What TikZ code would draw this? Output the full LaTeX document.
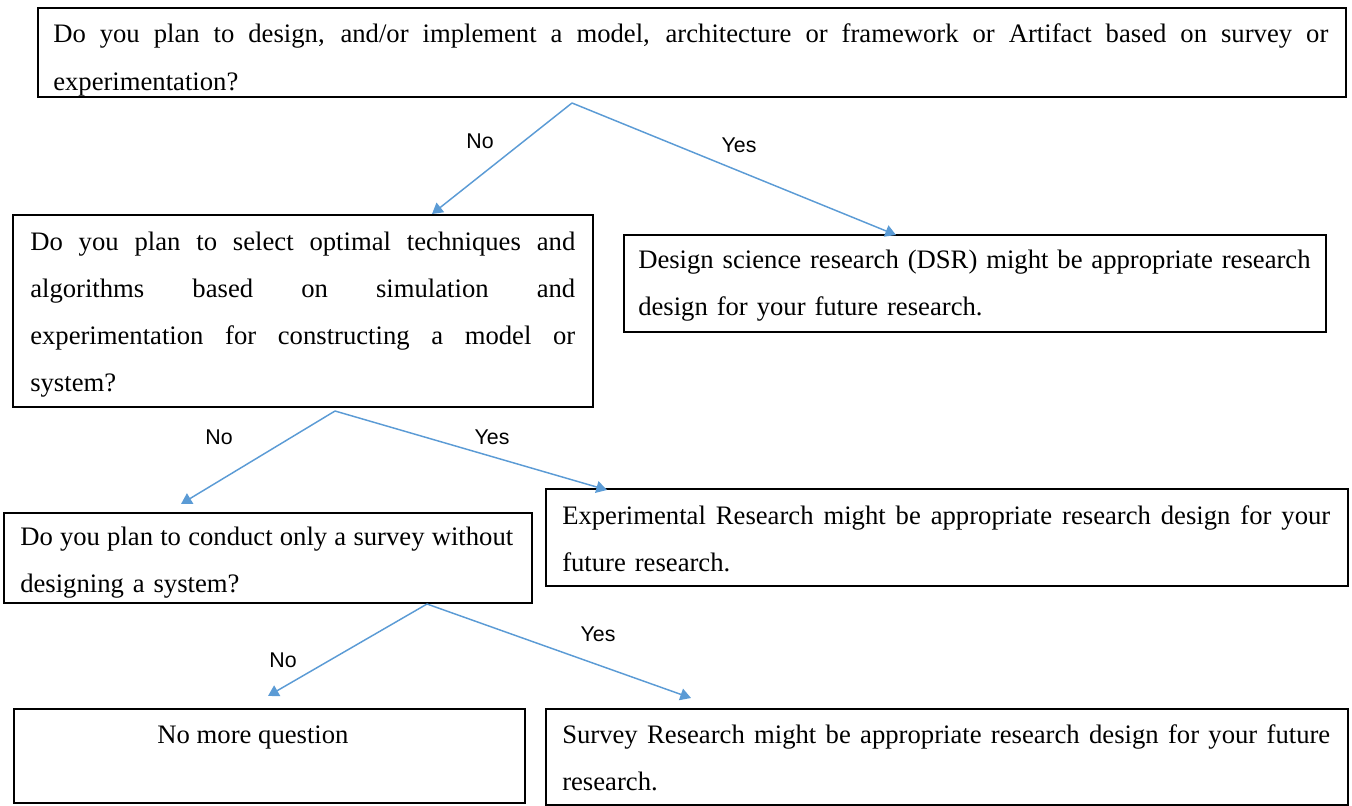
\documentclass[tikz,border=0pt]{standalone}
\usepackage{fontspec}
\setmainfont{Liberation Serif}
\newfontfamily\labelfont{Liberation Sans}
\usetikzlibrary{arrows.meta,fit}
\definecolor{flowblue}{HTML}{5B9BD5}
% a line whose word spaces stretch or shrink to fill the given width
\newcommand{\fullline}[2]{\leavevmode\hbox to #1{\spaceskip=0.25em plus 1fil minus 0.12em\relax
  \xspaceskip=\spaceskip #2}}

\begin{document}
\begin{tikzpicture}[x=0.75pt,y=-0.75pt,
  box/.style={draw=black, line width=1pt, inner sep=0pt, outer sep=0pt},
  body/.style={anchor=base west, inner sep=0pt, align=left, text width=#1,
    font=\fontsize{20}{35.4}\selectfont},
  body/.default=580pt,
  flow/.style={draw=flowblue, line width=1.1pt,
    -{Triangle[length=8pt,width=9pt]}},
  answer/.style={font=\labelfont\fontsize{16}{18}\selectfont, inner sep=0pt}]
\useasboundingbox (0,0) rectangle (1352,806);

% box outlines
\coordinate (q1a) at (38,8);    \coordinate (q1b) at (1346,97);
\coordinate (q2a) at (13,215);  \coordinate (q2b) at (593,407);
\coordinate (q3a) at (4,513);   \coordinate (q3b) at (532,603);
\coordinate (dsra) at (624,235); \coordinate (dsrb) at (1326,332);
\coordinate (expa) at (546,489); \coordinate (expb) at (1348,586);
\coordinate (nma) at (14,709);  \coordinate (nmb) at (525,803);
\coordinate (sva) at (546,709); \coordinate (svb) at (1348,805);

\node[box, fit=(q1a)(q1b)] (q1) {};
\node[box, fit=(q2a)(q2b)] (q2) {};
\node[box, fit=(q3a)(q3b)] (q3) {};
\node[box, fit=(dsra)(dsrb)] (dsr) {};
\node[box, fit=(expa)(expb)] (exp) {};
\node[box, fit=(nma)(nmb)] (nomore) {};
\node[box, fit=(sva)(svb)] (survey) {};

% box texts, cut off at the box edges
\begin{scope}
  \clip (q1.north west) rectangle (q1.south east);
  \node[body=956.25pt] (q1text) at (53,43)
    {\fullline{956.25pt}{Do you plan to design, and/or implement a model, architecture or framework or Artifact based on survey or}\\
     experimentation?};
\end{scope}
\begin{scope}
  \clip (q2.north west) rectangle (q2.south east);
  \node[body=408.75pt] (q2text) at (30,250)
    {\fullline{408.75pt}{Do you plan to select optimal techniques and}\\
     \fullline{408.75pt}{algorithms based on simulation and}\\
     \fullline{408.75pt}{experimentation for constructing a model or}\\
     system?};
\end{scope}
\begin{scope}
  \clip (q3.north west) rectangle (q3.south east);
  \node[body=369.75pt] (q3text) at (20,545)
    {\fullline{369.75pt}{Do you plan to conduct only a survey without}\\
     designing a system?};
\end{scope}
\node[body] (dsrtext) at (638,268)
  {Design science research (DSR) might be appropriate research\\
   design for your future research.};
\node[body] (exptext) at (562,524)
  {\fullline{576pt}{Experimental Research might be appropriate research design for your}\\
   future research.};
\node[anchor=base, inner sep=0pt, font=\fontsize{20}{35.4}\selectfont]
  (nomoretext) at (253,743) {No more question};
\begin{scope}
  \clip (survey.north west) rectangle (survey.south east);
  \node[body] (surveytext) at (562,743)
    {\fullline{576pt}{Survey Research might be appropriate research design for your future}\\
     research.};
\end{scope}

% branching arrows
\coordinate (f1) at (572,103);
\coordinate (t1n) at (432,214);
\coordinate (t1y) at (896,235);
\coordinate (f2) at (335,411);
\coordinate (t2n) at (181,504);
\coordinate (t2y) at (607,490);
\coordinate (f3) at (427,604);
\coordinate (t3n) at (268,696);
\coordinate (t3y) at (691,698);

\draw[flow] (f1) -- (t1n);
\draw[flow] (f1) -- (t1y);
\draw[flow] (f2) -- (t2n);
\draw[flow] (f2) -- (t2y);
\draw[flow] (f3) -- (t3n);
\draw[flow] (f3) -- (t3y);

\node[answer] (a1n) at (480,141) {No};
\node[answer] (a1y) at (739,145) {Yes};
\node[answer] (a2n) at (219,437) {No};
\node[answer] (a2y) at (492,437) {Yes};
\node[answer] (a3n) at (283,660) {No};
\node[answer] (a3y) at (598,634) {Yes};
\end{tikzpicture}
\end{document}
